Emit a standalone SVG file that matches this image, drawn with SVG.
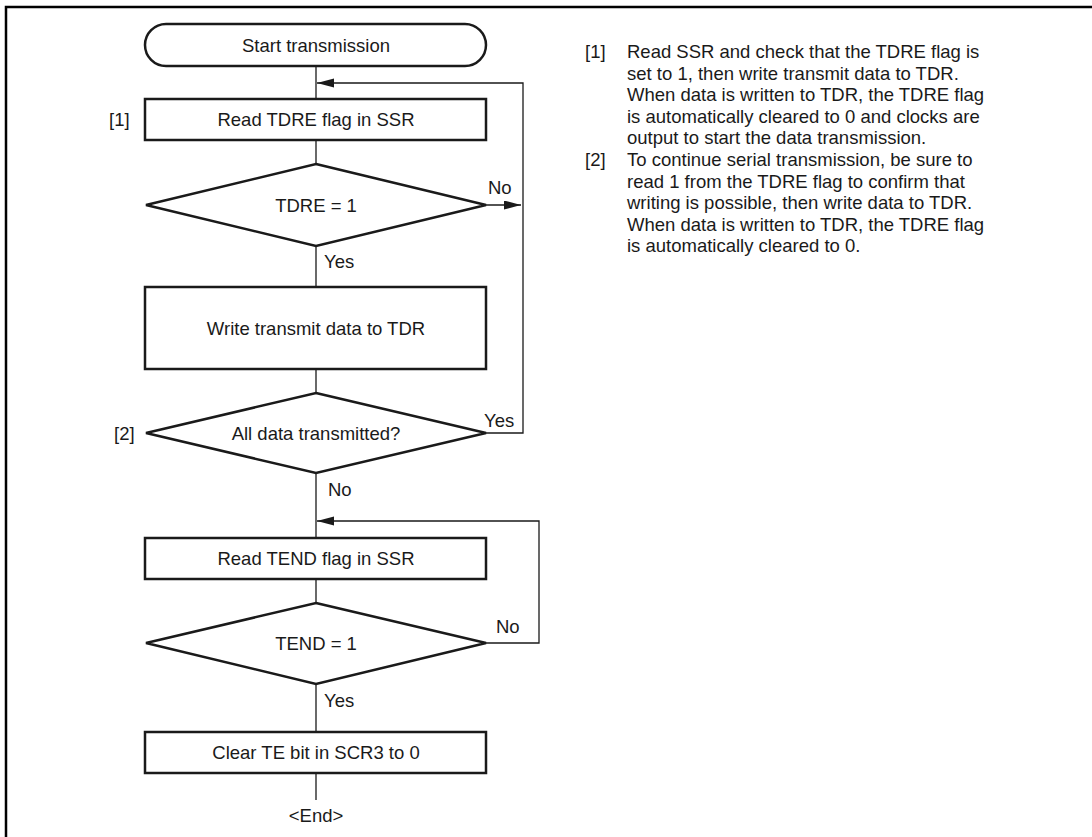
<svg xmlns="http://www.w3.org/2000/svg" width="1092" height="837" viewBox="0 0 1092 837">
<style>
.shape{fill:#fff;stroke:#1a1a1a;stroke-width:2.5}
.conn{fill:none;stroke:#1a1a1a;stroke-width:1.3}
text{font-family:"Liberation Sans",Arial,sans-serif;font-size:18.5px;fill:#1a1a1a}
.c{text-anchor:middle}
.frame{stroke:#000;stroke-width:2.5;fill:none}
</style>
<defs>
<marker id="arr" markerUnits="userSpaceOnUse" markerWidth="18" markerHeight="10" refX="17" refY="4.5" orient="auto">
<path d="M0,0 L17,4.5 L0,9 Z" fill="#1a1a1a"/>
</marker>
</defs>
<path class="frame" d="M6,837 V7 H1092"/>
<g id="connectors">
<line class="conn" x1="316" y1="66" x2="316" y2="99"/>
<line class="conn" x1="316" y1="140" x2="316" y2="164"/>
<line class="conn" x1="316" y1="246" x2="316" y2="287"/>
<line class="conn" x1="316" y1="369" x2="316" y2="393"/>
<line class="conn" x1="316" y1="473" x2="316" y2="538"/>
<line class="conn" x1="316" y1="579" x2="316" y2="603"/>
<line class="conn" x1="316" y1="684" x2="316" y2="732"/>
<line class="conn" x1="316" y1="773" x2="316" y2="800"/>
<polyline class="conn" points="486,433 523,433 523,83 317,83" marker-end="url(#arr)"/>
<line class="conn" x1="486" y1="205" x2="521" y2="205" marker-end="url(#arr)"/>
<polyline class="conn" points="486,643 539,643 539,521 317,521" marker-end="url(#arr)"/>
<text x="488" y="193.5">No</text>
<text x="324" y="267.5">Yes</text>
<text x="484" y="426.5">Yes</text>
<text x="328" y="495.5">No</text>
<text x="496" y="632.5">No</text>
<text x="324" y="706.5">Yes</text>
</g>
<g id="start">
<rect class="shape" x="145" y="24" width="341" height="42" rx="21"/>
<text class="c" x="316" y="51.5">Start transmission</text>
</g>
<g id="read-tdre">
<rect class="shape" x="145" y="99" width="341" height="41"/>
<text class="c" x="316" y="126">Read TDRE flag in SSR</text>
<text x="109" y="126">[1]</text>
</g>
<g id="tdre-check">
<polygon class="shape" points="316,164 486,205 316,246 146,205"/>
<text class="c" x="316" y="211.5">TDRE = 1</text>
</g>
<g id="write-tdr">
<rect class="shape" x="145" y="287" width="341" height="82"/>
<text class="c" x="316" y="334.5">Write transmit data to TDR</text>
</g>
<g id="all-data">
<polygon class="shape" points="316,393 486,433 316,473 146,433"/>
<text class="c" x="316" y="439.5">All data transmitted?</text>
<text x="114" y="440">[2]</text>
</g>
<g id="read-tend">
<rect class="shape" x="145" y="538" width="341" height="41"/>
<text class="c" x="316" y="565">Read TEND flag in SSR</text>
</g>
<g id="tend-check">
<polygon class="shape" points="316,603 486,643 316,684 146,643"/>
<text class="c" x="316" y="649.5">TEND = 1</text>
</g>
<g id="clear-te">
<rect class="shape" x="145" y="732" width="341" height="41"/>
<text class="c" x="316" y="759">Clear TE bit in SCR3 to 0</text>
</g>
<g id="end">
<text class="c" x="316" y="822">&lt;End&gt;</text>
</g>
<g id="notes">
<text x="585" y="58">[1]</text>
<text x="627" y="58">Read SSR and check that the TDRE flag is</text>
<text x="627" y="79.6">set to 1, then write transmit data to TDR.</text>
<text x="627" y="101.2">When data is written to TDR, the TDRE flag</text>
<text x="627" y="122.8">is automatically cleared to 0 and clocks are</text>
<text x="627" y="144.4">output to start the data transmission.</text>
<text x="585" y="166">[2]</text>
<text x="627" y="166">To continue serial transmission, be sure to</text>
<text x="627" y="187.6">read 1 from the TDRE flag to confirm that</text>
<text x="627" y="209.2">writing is possible, then write data to TDR.</text>
<text x="627" y="230.8">When data is written to TDR, the TDRE flag</text>
<text x="627" y="252.4">is automatically cleared to 0.</text>
</g>
</svg>
